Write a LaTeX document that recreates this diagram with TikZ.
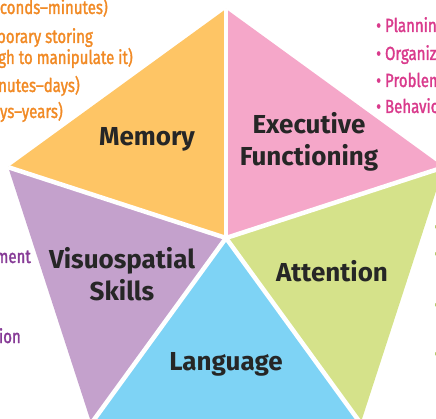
\documentclass[tikz,border=0pt]{standalone}
\usepackage{fontspec}
\setmainfont{Fira Sans}
\newfontfamily\sidefont[FakeStretch=0.79,FakeBold=1.6]{Fira Sans}
\usetikzlibrary{positioning}

\definecolor{memyellow}{HTML}{FEC565}
\definecolor{execpink}{HTML}{F5A7C9}
\definecolor{attgreen}{HTML}{D5E28A}
\definecolor{langblue}{HTML}{7ED3F5}
\definecolor{vispurple}{HTML}{C4A1CC}
\definecolor{labelgray}{HTML}{262626}
\definecolor{memtext}{HTML}{F18A25}
\definecolor{exectext}{HTML}{D93A8C}
\definecolor{vistext}{HTML}{863A96}
\definecolor{atttext}{HTML}{9CBC48}

\begin{document}
\begin{tikzpicture}[x=1pt,y=-1pt,
  slicelabel/.style={font=\fontsize{26}{32}\selectfont\bfseries,text=labelgray,align=center},
  side/.style={font=\sidefont\fontsize{19}{21}\selectfont,anchor=base east,inner sep=0pt},
  bullet/.style={font=\sidefont\fontsize{19}{21}\selectfont,inner sep=0pt,text=atttext}]
\useasboundingbox (0,0) rectangle (436,419);
\clip (0,0) rectangle (436,419);
\coordinate (c) at (226,238);
\coordinate (top) at (226,9);
\coordinate (ur) at (443.8,167.2);
\coordinate (lr) at (360.6,423.3);
\coordinate (ll) at (91.4,423.3);
\coordinate (ul) at (8.2,167.2);
% the five slices
\fill[memyellow] (c) -- (ul) -- (top) -- cycle;
\fill[execpink] (c) -- (top) -- (ur) -- cycle;
\fill[attgreen] (c) -- (ur) -- (lr) -- cycle;
\fill[langblue] (c) -- (lr) -- (ll) -- cycle;
\fill[vispurple] (c) -- (ll) -- (ul) -- cycle;
\foreach \v in {top,ur,lr,ll,ul}
  \draw[white,line width=4.5pt] (c) -- (\v);
% slice names
\node[slicelabel] (memory) at (147,139) {Memory};
\node[slicelabel] (exec) at (309,142) {Executive\\Functioning};
\node[slicelabel] (attention) at (332,271) {Attention};
\node[slicelabel] (language) at (226,364) {Language};
\node[slicelabel] (visuo) at (122,274) {Visuospatial\\Skills};
% memory notes
\node[side,text=memtext] (mem1) at (108,14) {conds–minutes)};
\node[side,text=memtext] (mem2) at (93,43) {porary storing};
\node[side,text=memtext] (mem3) at (133,64) {gh to manipulate it)};
\node[side,text=memtext] (mem4) at (80,92) {nutes–days)};
\node[side,text=memtext] (mem5) at (63,118) {ys–years)};
% executive notes
\node[side,anchor=base west,text=exectext] (exec1) at (376,32) {• Planning};
\node[side,anchor=base west,text=exectext] (exec2) at (376,60) {• Organization};
\node[side,anchor=base west,text=exectext] (exec3) at (376,87) {• Problem};
\node[side,anchor=base west,text=exectext] (exec4) at (376,113) {• Behavior};
% visuospatial notes
\node[side,text=vistext] (vis1) at (31,263) {ment};
\node[side,text=vistext] (vis2) at (21,343) {ion};
% attention notes
\node[bullet] (att1) at (437,229) {•};
\node[bullet] (att2) at (437,256) {•};
\node[bullet] (att3) at (437,307) {•};
\node[bullet] (att4) at (437,356) {•};
\end{tikzpicture}
\end{document}
